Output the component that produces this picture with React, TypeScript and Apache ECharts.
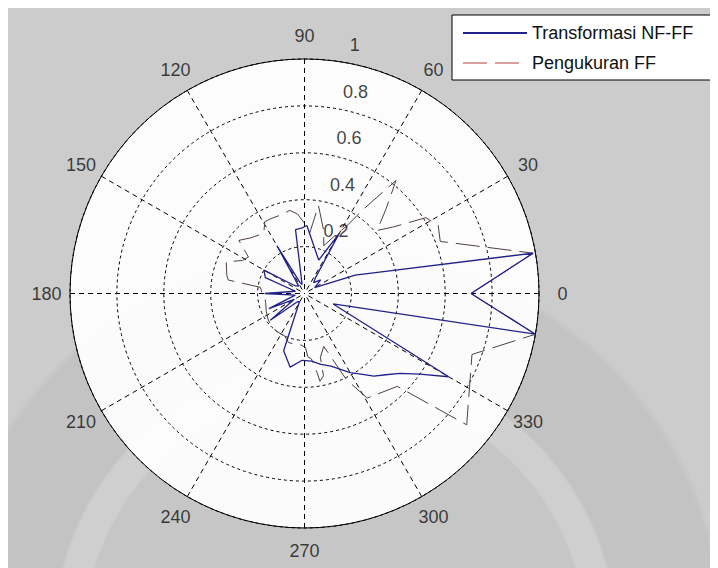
import React, { useEffect, useRef } from "react";
import * as echarts from "echarts";

// ---- data (angle in degrees, normalised amplitude) ----
const angleTicks = [0, 30, 60, 90, 120, 150, 180, 210, 240, 270, 300, 330];
const radiusTicks = [0.2, 0.4, 0.6, 0.8, 1];

const nfffName = "Transformasi NF-FF";
const nfffAngle = [0, 10, 20, 30, 40, 50, 55, 60, 67, 88, 92, 98, 105, 112, 120, 128, 140, 150, 158, 166, 180, 190, 203, 210, 218, 228, 238, 250, 259, 268, 276, 283, 290, 300, 305, 310, 315, 320, 325, 330, 340, 350, 360];
const nfffR = [0.71, 0.99, 0.23, 0.05, 0.09, 0.06, 0.08, 0.295, 0.155, 0.29, 0.28, 0.275, 0.04, 0.05, 0.235, 0.04, 0.05, 0.2, 0.18, 0.04, 0.17, 0.04, 0.165, 0.05, 0.185, 0.05, 0.04, 0.26, 0.32, 0.285, 0.29, 0.31, 0.33, 0.39, 0.42, 0.46, 0.49, 0.53, 0.6, 0.71, 0.13, 1.0, 0.71];

const ffName = "Pengukuran FF";
const ffAngle = [0, 10, 21, 27, 32, 37, 41, 46, 51, 55, 58, 63, 68, 73, 81, 85, 90, 95, 100, 106, 114, 119, 124, 134, 141, 147, 152, 158, 167, 170, 172, 180, 186, 193, 205, 215, 225, 235, 245, 252, 260, 266, 271, 273, 276, 279, 280, 283, 284, 290, 296, 301, 315, 321, 340, 350, 360];
const ffR = [0.71, 0.99, 0.62, 0.64, 0.61, 0.47, 0.41, 0.5, 0.62, 0.44, 0.34, 0.27, 0.22, 0.28, 0.38, 0.26, 0.3, 0.34, 0.36, 0.35, 0.35, 0.35, 0.31, 0.33, 0.36, 0.285, 0.3, 0.36, 0.34, 0.33, 0.19, 0.18, 0.17, 0.17, 0.18, 0.19, 0.2, 0.2, 0.2, 0.22, 0.22, 0.22, 0.23, 0.27, 0.28, 0.34, 0.38, 0.36, 0.28, 0.24, 0.41, 0.52, 0.56, 0.89, 0.76, 1.0, 0.71];

const FONT = 'Arial, "Liberation Sans", Helvetica, sans-serif';
const CX = 296.5;
const CY = 285.5;
const R = 234.5;

export default function App() {
  const ref = useRef<HTMLDivElement>(null);

  useEffect(() => {
    if (!ref.current) return;
    const chart = echarts.init(ref.current, undefined, { renderer: "svg" });

    const nfffData = nfffAngle.map((a, i) => [nfffR[i], a]);
    const ffData = ffAngle.map((a, i) => [ffR[i], a]);
    const rLabelData = radiusTicks.map((t) => [t, 82]);
    const aLabelData = angleTicks.map((a) => [1.1, a]);

    chart.setOption({
      animation: false,
      backgroundColor: "transparent",
      textStyle: { fontFamily: FONT },
      polar: { center: [CX, CY], radius: R },
      angleAxis: {
        type: "value",
        min: 0,
        max: 360,
        interval: 30,
        startAngle: 0,
        clockwise: false,
        axisLine: { show: true, lineStyle: { color: "#000", width: 1 } },
        axisTick: { show: false },
        axisLabel: { show: false },
        splitLine: { show: true, lineStyle: { color: "#000", width: 1, type: [5, 4] } },
        splitArea: { show: false },
      },
      radiusAxis: {
        type: "value",
        min: 0,
        max: 1,
        interval: 0.2,
        axisLine: { show: false },
        axisTick: { show: false },
        axisLabel: { show: false },
        splitLine: { show: true, lineStyle: { color: "#000", width: 1, type: [3, 3] } },
      },
      legend: {
        data: [
          { name: nfffName, itemStyle: { opacity: 0 } },
          { name: ffName, itemStyle: { opacity: 0 }, lineStyle: { color: "#b83c3c", type: [24, 8], width: 1 } },
        ],
        orient: "vertical",
        left: 444,
        top: 7,
        itemWidth: 64,
        itemHeight: 14,
        itemGap: 10,
        padding: [8, 12, 7, 10],
        backgroundColor: "#fff",
        borderColor: "#000",
        borderWidth: 1,
        borderRadius: 0,
        itemStyle: { opacity: 0 },
        textStyle: { fontSize: 18, color: "#111", lineHeight: 20, fontFamily: FONT, width: 200, overflow: "none" },
      },
      series: [
        {
          name: nfffName,
          type: "line",
          coordinateSystem: "polar",
          data: nfffData,
          symbol: "none",
          smooth: false,
          color: "#22228a",
          lineStyle: { color: "#22228a", width: 1.3 },
          z: 4,
        },
        {
          name: ffName,
          type: "line",
          coordinateSystem: "polar",
          data: ffData,
          symbol: "none",
          smooth: false,
          color: "#524040",
          lineStyle: { color: "#524040", width: 1, type: [24, 8] },
          z: 3,
        },
        {
          name: "rlabels",
          type: "scatter",
          coordinateSystem: "polar",
          data: rLabelData,
          symbolSize: 1,
          clip: false,
          itemStyle: { color: "rgba(0,0,0,0)" },
          silent: true,
          z: 5,
          label: {
            show: true,
            position: "right",
            distance: 0,
            offset: [12, -16],
            fontSize: 18,
            color: "#111",
            fontFamily: FONT,
            formatter: (p: any) => String(p.value[0]),
          },
        },
        {
          name: "alabels",
          type: "scatter",
          coordinateSystem: "polar",
          data: aLabelData,
          symbolSize: 1,
          clip: false,
          itemStyle: { color: "rgba(0,0,0,0)" },
          silent: true,
          z: 5,
          label: {
            show: true,
            position: "inside",
            fontSize: 18,
            color: "#111",
            fontFamily: FONT,
            formatter: (p: any) => String(p.value[1]),
          },
        },
      ],
    });

    return () => chart.dispose();
  }, []);

  return (
    <div style={{ width: 710, height: 560, overflow: "hidden" }}>
      <div
        ref={ref}
        style={{
          width: 760,
          height: 560,
          background: [
            `radial-gradient(circle ${R}px at ${CX}px ${CY}px, rgba(255,255,255,0.94) ${R - 0.5}px, rgba(255,255,255,0) ${R}px)`,
            "radial-gradient(circle at 327px 632px, #c6c6c6 0px, #c6c6c6 250px, #cfcfcf 252px, #cfcfcf 280px, #c3c3c3 283px, #c3c3c3 385px, #cccccc 392px)",
          ].join(", "),
        }}
      />
    </div>
  );
}
